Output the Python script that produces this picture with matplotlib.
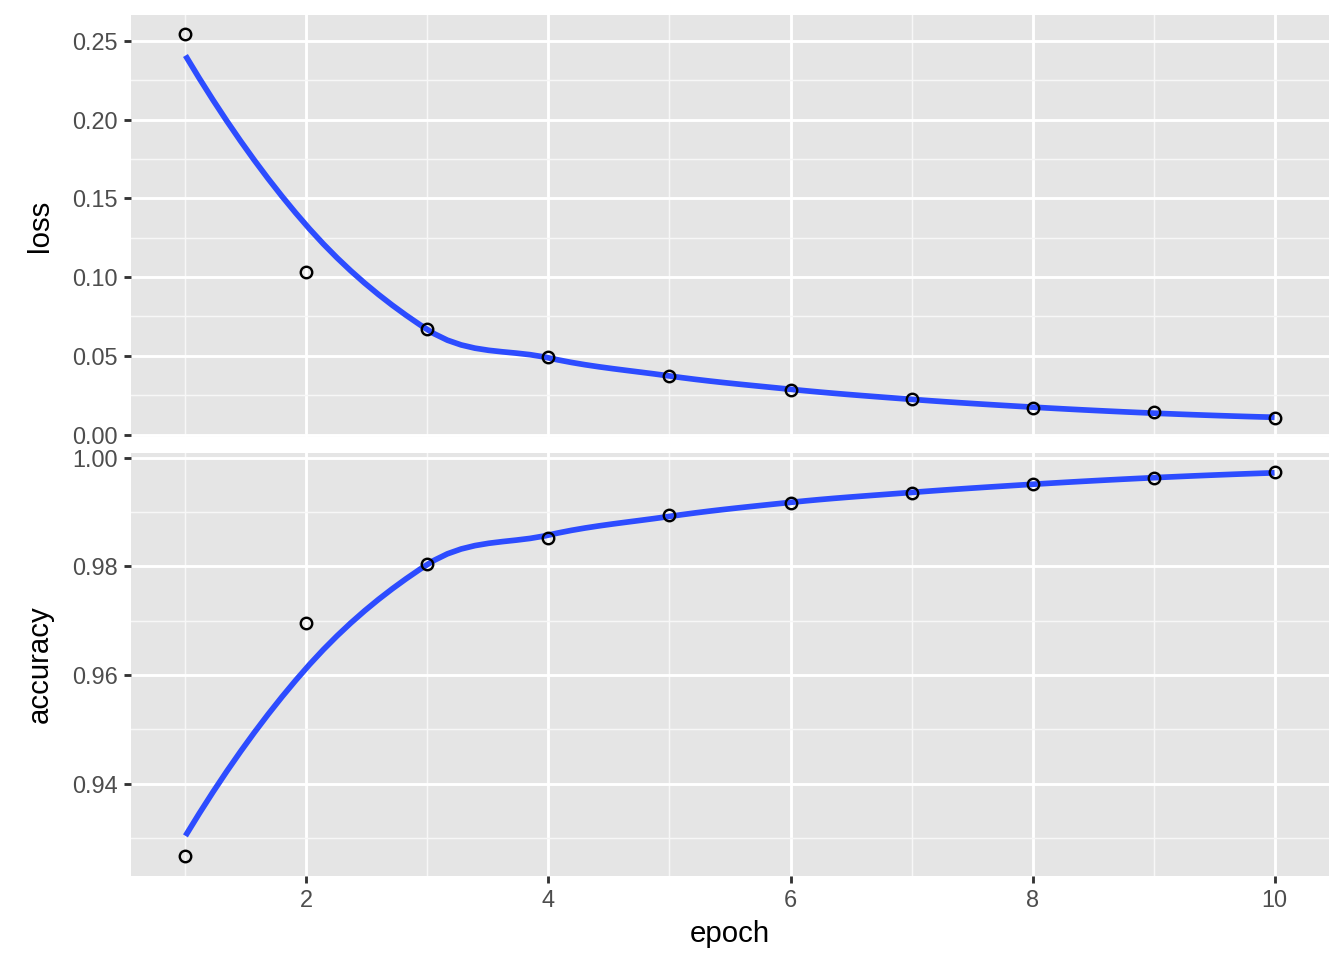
import numpy as np
import matplotlib
matplotlib.use("Agg")
import matplotlib.pyplot as plt
from matplotlib.ticker import FixedLocator

plt.rcParams['font.family'] = ['Liberation Sans', 'DejaVu Sans']

epoch = [1, 2, 3, 4, 5, 6, 7, 8, 9, 10]
loss = [0.2544, 0.1034, 0.0673, 0.0495, 0.0374, 0.0285, 0.0228, 0.0171, 0.0140, 0.0108]
accuracy = [0.9266, 0.9695, 0.9804, 0.9853, 0.9894, 0.9917, 0.9936, 0.9952, 0.9962, 0.9973]
metrics = ["loss", "accuracy"]
major_y = {"loss": [0.00, 0.05, 0.10, 0.15, 0.20, 0.25],
           "accuracy": [0.94, 0.96, 0.98, 1.00]}
minor_y = {"loss": [0.025, 0.075, 0.125, 0.175, 0.225],
           "accuracy": [0.93, 0.95, 0.97, 0.99]}
major_x = [2, 4, 6, 8, 10]
minor_x = [1, 3, 5, 7, 9]


def local_fit(x, y, x0, span=0.75):
    n = len(x); q = int(np.floor(n * span))
    d = np.abs(x - x0)
    h = np.sort(d)[q - 1]
    w = np.clip(1 - (d / h) ** 3, 0, None) ** 3
    X = np.vstack([np.ones(n), x - x0, (x - x0) ** 2]).T
    Wm = np.diag(w)
    beta = np.linalg.solve(X.T @ Wm @ X, X.T @ Wm @ y)
    return beta[0], beta[1]


def loess(x, y, xs, span=0.75):
    # local quadratic fits at the data points (value + slope),
    # cubic Hermite interpolation in between (as loess surface="interpolate")
    x = np.asarray(x, float); y = np.asarray(y, float)
    verts = np.unique(x)
    vals, slopes = zip(*[local_fit(x, y, v, span) for v in verts])
    vals = np.array(vals); slopes = np.array(slopes)
    out = []
    for x0 in xs:
        i = np.clip(np.searchsorted(verts, x0) - 1, 0, len(verts) - 2)
        a, b = verts[i], verts[i + 1]
        hgt = b - a
        t = (x0 - a) / hgt
        h00 = 2 * t**3 - 3 * t**2 + 1
        h10 = t**3 - 2 * t**2 + t
        h01 = -2 * t**3 + 3 * t**2
        h11 = t**3 - t**2
        out.append(h00 * vals[i] + h10 * hgt * slopes[i] + h01 * vals[i + 1] + h11 * hgt * slopes[i + 1])
    return np.array(out)


fig = plt.figure(figsize=(7, 5), dpi=192)
W, H = 1344, 960
L, R = 131 / W, 1329 / W
panels = {"loss": (15, 436.7), "accuracy": (453.3, 875.7)}
data = {"loss": loss, "accuracy": accuracy}

xs = np.linspace(1, 10, 80)
xlo, xhi = 1 - 0.45, 10 + 0.45
axes = []
for m in metrics:
    top, bot = panels[m]
    ax = fig.add_axes([L, 1 - bot / H, R - L, (bot - top) / H])
    axes.append(ax)
    ax.set_facecolor('#E5E5E5')
    for s in ax.spines.values():
        s.set_visible(False)
    ys = loess(epoch, data[m], xs)
    allv = np.concatenate([ys, data[m]])
    lo, hi = allv.min(), allv.max()
    pad = (hi - lo) * 0.05
    ax.set_ylim(lo - pad, hi + pad)
    ax.set_xlim(xlo, xhi)
    ax.yaxis.set_major_locator(FixedLocator(major_y[m]))
    ax.yaxis.set_minor_locator(FixedLocator(minor_y[m]))
    ax.xaxis.set_major_locator(FixedLocator(major_x))
    ax.xaxis.set_minor_locator(FixedLocator(minor_x))
    ax.grid(which='major', color='white', linewidth=1.07)
    ax.grid(which='minor', color='#F7F7F7', linewidth=0.55)
    ax.set_axisbelow(True)
    ax.tick_params(which='minor', length=0)
    ax.tick_params(which='major', length=2.75, width=1.07, color='#333333',
                   labelsize=8.8, labelcolor='#4D4D4D', pad=2.2)
    ax.set_yticklabels([f"{v:.2f}" for v in major_y[m]])
    ax.plot(xs, ys, color='#2D4CFF', linewidth=2.13, solid_capstyle='butt', zorder=3)
    ax.plot(epoch, data[m], linestyle='none', marker='o', markersize=4.3,
            markerfacecolor='none', markeredgecolor='black', markeredgewidth=0.9, zorder=4)
    ax.set_ylabel(m, fontsize=11, color='black', labelpad=7)

axes[0].tick_params(axis='x', which='both', length=0, labelbottom=False)
axes[1].set_xlabel("epoch", fontsize=11, color='black', labelpad=3)
fig.align_ylabels(axes)

fig.savefig("out.png", dpi=192)
